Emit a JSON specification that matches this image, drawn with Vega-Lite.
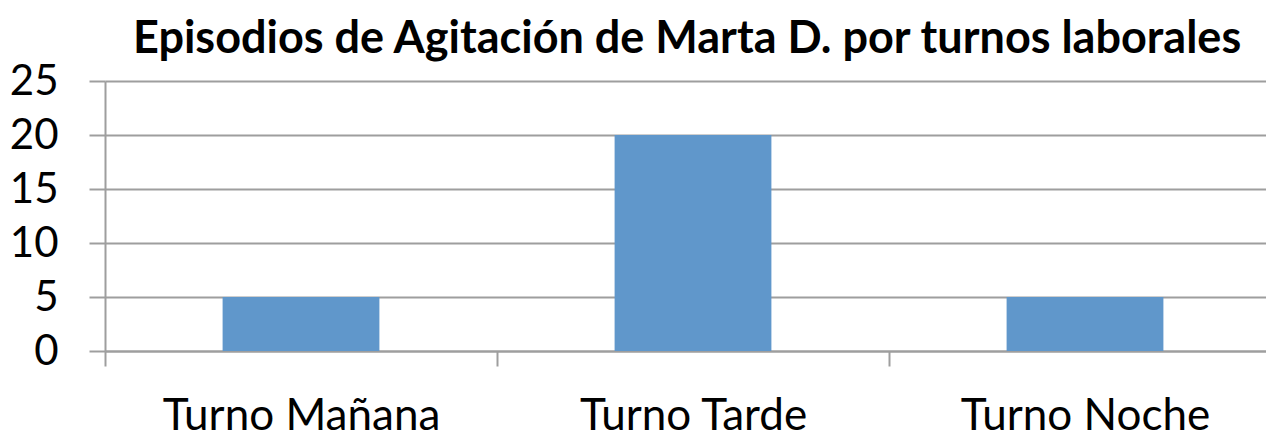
{
  "$schema": "https://vega.github.io/schema/vega-lite/v6.json",
  "width": 1176,
  "height": 270,
  "autosize": "none",
  "padding": {"left": 105, "top": 81, "right": 0, "bottom": 81},
  "background": "white",
  "title": {
    "text": "Episodios de Agitación de Marta D. por turnos laborales",
    "font": "Lato",
    "fontSize": 45,
    "fontWeight": "bold",
    "color": "black",
    "anchor": "start",
    "frame": "group",
    "dx": 28,
    "offset": -2
  },
  "data": {
    "values": [
      {"turno": "Turno Mañana", "episodios": 5},
      {"turno": "Turno Tarde", "episodios": 20},
      {"turno": "Turno Noche", "episodios": 5}
    ]
  },
  "mark": {"type": "bar", "color": "#6097CB", "width": {"band": 0.4}},
  "encoding": {
    "x": {
      "field": "turno",
      "type": "nominal",
      "sort": null,
      "scale": {"paddingInner": 0, "paddingOuter": 0},
      "axis": {
        "title": null,
        "labelAngle": 0,
        "labelFont": "Lato",
        "labelFontSize": 44,
        "labelColor": "black",
        "labelBaseline": "alphabetic",
        "labelPadding": 63,
        "labelLimit": 0,
        "tickBand": "extent",
        "tickSize": 15,
        "tickColor": "#9e9e9e",
        "tickWidth": 2,
        "domainColor": "#9e9e9e",
        "domainWidth": 2,
        "grid": false
      }
    },
    "y": {
      "field": "episodios",
      "type": "quantitative",
      "scale": {"domain": [0, 25]},
      "axis": {
        "title": null,
        "values": [0, 5, 10, 15, 20, 25],
        "labelFont": "Lato",
        "labelFontSize": 42,
        "labelColor": "black",
        "labelPadding": 31,
        "tickSize": 16,
        "tickColor": "#9e9e9e",
        "tickWidth": 2,
        "domainColor": "#9e9e9e",
        "domainWidth": 2,
        "gridColor": "#9e9e9e",
        "gridWidth": 2
      }
    }
  },
  "config": {"view": {"stroke": null}}
}
